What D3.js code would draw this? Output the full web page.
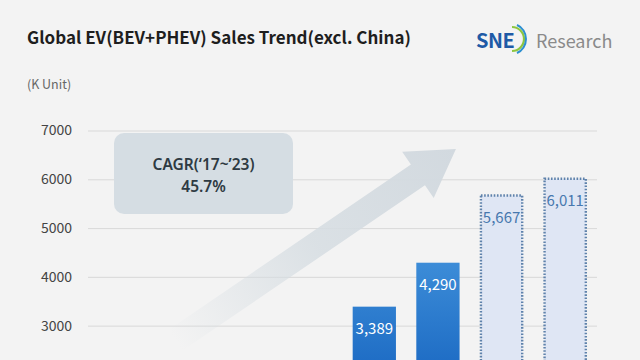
<!DOCTYPE html>
<html>
<head>
<meta charset="utf-8">
<script src="https://cdn.jsdelivr.net/npm/d3@7"></script>
<style>
  html, body { margin: 0; padding: 0; background: #f3f3f3; overflow: hidden; }
  svg { display: block; font-family: "Noto Sans CJK KR", "Noto Sans", sans-serif; }
</style>
</head>
<body>
<div id="chart"></div>
<script>
// years on the x axis (the axis itself is cropped off at the bottom of the picture)
const years = ["2017", "2018", "2019", "2020", "2021", "2022", "2023", "2024"];
// sales, K units; earlier years fall below the visible crop so they stay empty
const sales = [null, null, null, null, 3389, 4290, 5667, 6011];
// dotted bars = estimates
const isEstimate = [false, false, false, false, false, false, true, true];
const yTicks = [3000, 4000, 5000, 6000, 7000];

const W = 640, H = 360;
const svg = d3.select("#chart").append("svg")
  .attr("width", W).attr("height", H)
  .attr("xmlns", "http://www.w3.org/2000/svg");

svg.append("rect").attr("width", W).attr("height", H).attr("fill", "#f3f3f3");

const x = d3.scaleBand().domain(years).range([88, 597]).paddingInner(0.32).paddingOuter(0.16);
const y = d3.scaleLinear().domain([0, 7000]).range([472, 130.5]);

const defs = svg.append("defs");
const g1 = defs.append("linearGradient").attr("id", "barGrad")
  .attr("gradientUnits", "userSpaceOnUse").attr("x1", 0).attr("x2", 0).attr("y1", 260).attr("y2", 380);
g1.append("stop").attr("offset", 0).attr("stop-color", "#3d8dd8");
g1.append("stop").attr("offset", 1).attr("stop-color", "#1a68c2");

// title + unit
svg.append("text").attr("x", 27).attr("y", 44)
  .attr("font-size", 17).attr("font-weight", 700).attr("fill", "#1e1e1e")
  .text("Global EV(BEV+PHEV) Sales Trend(excl. China)");
svg.append("text").attr("x", 27).attr("y", 89)
  .attr("font-size", 12.5).attr("fill", "#666")
  .text("(K Unit)");

// logo
const logo = svg.append("g").attr("transform", "translate(476,48)");
logo.append("text").attr("x", 0).attr("y", 0)
  .attr("font-size", 20).attr("font-weight", 700).attr("fill", "#1e5aa6")
  .attr("letter-spacing", -0.5).text("SNE");
logo.append("path").attr("d", "M36,-21 A12,12 0 0 1 36,3").attr("fill", "none")
  .attr("stroke", "#8dc63f").attr("stroke-width", 2.2);
logo.append("path").attr("d", "M41,-23 A14,15 0 0 1 41,5").attr("fill", "none")
  .attr("stroke", "#2d8fd0").attr("stroke-width", 2);
logo.append("text").attr("x", 60).attr("y", 0)
  .attr("font-size", 18).attr("fill", "#8a8a8a").text("Research");

// y axis: gridlines + labels
const yAxis = svg.append("g").attr("transform", "translate(88,0)")
  .call(d3.axisLeft(y).tickValues(yTicks).tickSize(-509).tickPadding(16).tickFormat(d3.format("d")));
yAxis.select(".domain").remove();
yAxis.selectAll(".tick line").attr("stroke", "#d9d9d9").attr("stroke-width", 1);
yAxis.selectAll(".tick text").attr("fill", "#444").attr("font-size", 14)
  .attr("font-family", "'Noto Sans CJK KR', 'Noto Sans', sans-serif");

// trend arrow (decorative)
const bw = x.bandwidth();
const tail = [x("2018") + bw / 2 - 8, y(2700)];
const tip = [x("2022") + bw / 2 + 18, y(6620)];
const len = Math.hypot(tip[0] - tail[0], tip[1] - tail[1]);
const ang = Math.atan2(tip[1] - tail[1], tip[0] - tail[0]) * 180 / Math.PI;
const ag = defs.append("linearGradient").attr("id", "arrowGrad")
  .attr("x1", 0).attr("x2", 1).attr("y1", 0).attr("y2", 0);
ag.append("stop").attr("offset", 0).attr("stop-color", "#d6dde2").attr("stop-opacity", 0);
ag.append("stop").attr("offset", 0.5).attr("stop-color", "#d6dde2").attr("stop-opacity", 0.85);
ag.append("stop").attr("offset", 1).attr("stop-color", "#d2d9df").attr("stop-opacity", 1);
const sw = 12.5, hl = 46, hw = 28;
svg.append("path")
  .attr("transform", `translate(${tail[0]},${tail[1]}) rotate(${ang})`)
  .attr("d", `M0,${-sw} L${len - hl},${-sw} L${len - hl},${-hw} L${len},0 L${len - hl},${hw} L${len - hl},${sw} L0,${sw} Z`)
  .attr("fill", "url(#arrowGrad)");

// CAGR box
const box = svg.append("g");
box.append("rect").attr("x", 114).attr("y", 133).attr("width", 179).attr("height", 81)
  .attr("rx", 10).attr("fill", "#d5dde3");
box.append("text").attr("x", 203.5).attr("y", 170).attr("text-anchor", "middle")
  .attr("font-family", "'Noto Sans', sans-serif")
  .attr("font-size", 15.5).attr("font-weight", 600).attr("fill", "#2e3a42").text("CAGR(‘17~’23)");
box.append("text").attr("x", 203.5).attr("y", 192).attr("text-anchor", "middle")
  .attr("font-family", "'Noto Sans', sans-serif")
  .attr("font-size", 15.5).attr("font-weight", 600).attr("fill", "#2e3a42").text("45.7%");

// bars
const data = years.map((yr, i) => ({ yr, v: sales[i], est: isEstimate[i] })).filter(d => d.v != null);
const bars = svg.append("g");
bars.selectAll("rect").data(data).join("rect")
  .attr("x", d => x(d.yr) + (d.est ? 1 : 0))
  .attr("y", d => y(d.v))
  .attr("width", d => bw - (d.est ? 2 : 0))
  .attr("height", d => y(0) - y(d.v))
  .attr("fill", d => d.est ? "#dfe6f4" : "url(#barGrad)")
  .attr("stroke", d => d.est ? "#5f82ab" : "none")
  .attr("stroke-width", 2.4)
  .attr("stroke-dasharray", d => d.est ? "1.6,1.6" : null);

bars.selectAll("text").data(data).join("text")
  .attr("x", d => x(d.yr) + bw / 2)
  .attr("y", d => y(d.v) + 27)
  .attr("text-anchor", "middle")
  .attr("font-size", 15)
  .attr("fill", d => d.est ? "#4778ae" : "#ffffff")
  .text(d => d3.format(",")(d.v));
</script>
</body>
</html>
